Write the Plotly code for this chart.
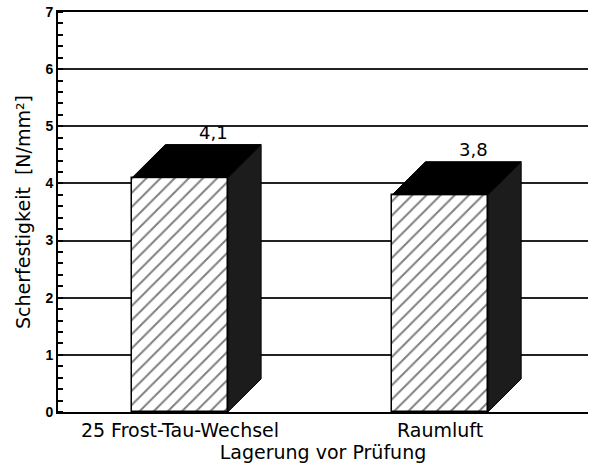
import plotly.graph_objects as go

categories = ["25 Frost-Tau-Wechsel", "Raumluft"]
values = [4.1, 3.8]
value_labels = ["4,1", "3,8"]
y_ticks = [0, 1, 2, 3, 4, 5, 6, 7]

xpos = list(range(len(categories)))
bar_w = 0.368
dx = 0.128   # depth offset in x units
dy = 0.58    # depth offset in y units

FONT = "DejaVu Sans, Liberation Sans, Arial"

fig = go.Figure()

fig.add_trace(go.Bar(
    x=xpos, y=values, width=bar_w,
    marker=dict(color="white",
                pattern=dict(shape="/", fgcolor="black", bgcolor="white", size=10, solidity=0.2),
                line=dict(color="black", width=1.5)),
    showlegend=False, hoverinfo="skip"))

for xc, v in zip(xpos, values):
    x0, x1 = xc - bar_w / 2, xc + bar_w / 2
    # side face
    fig.add_trace(go.Scatter(
        x=[x1, x1 + dx, x1 + dx, x1, x1], y=[v, v + dy, dy, 0, v],
        mode="lines", fill="toself", fillcolor="#1c1c1c",
        line=dict(color="black", width=1), showlegend=False, hoverinfo="skip"))
    # top face
    fig.add_trace(go.Scatter(
        x=[x0, x0 + dx, x1 + dx, x1, x0], y=[v, v + dy, v + dy, v, v],
        mode="lines", fill="toself", fillcolor="black",
        line=dict(color="black", width=1), showlegend=False, hoverinfo="skip"))

for xc, v, t in zip(xpos, values, value_labels):
    fig.add_annotation(x=xc + dx, y=v + dy, text=t, showarrow=False,
                       yanchor="bottom", yshift=0,
                       font=dict(size=18, color="black", family=FONT))

fig.update_layout(
    width=590, height=471,
    margin=dict(l=58, r=2, t=12, b=59, autoexpand=False),
    paper_bgcolor="white", plot_bgcolor="white",
    font=dict(family=FONT, color="black"),
    xaxis=dict(range=[-0.469, 1.569], tickvals=xpos, ticktext=categories,
               showgrid=False, zeroline=False, showline=True, mirror=True,
               linecolor="black", linewidth=2,
               ticks="", tickfont=dict(size=19), automargin=False,
               title=dict(text="Lagerung vor Prüfung", font=dict(size=19), standoff=6)),
    yaxis=dict(range=[0, 7], tickvals=y_ticks, ticktext=[str(v) for v in y_ticks],
               showgrid=True, gridcolor="#222", gridwidth=1.5, zeroline=False,
               showline=True, linecolor="black", linewidth=2, automargin=False,
               ticks="", tickfont=dict(size=14, weight="bold", family="Liberation Sans, Arial"),
               minor=dict(dtick=0.2, ticks="inside", ticklen=5, tickcolor="black", tickwidth=1.5, showgrid=False),
               title=dict(text="Scherfestigkeit  [N/mm²]", font=dict(size=19), standoff=10)),
    bargap=0,
)

fig.write_html("out.html", config={"displayModeBar": False},
               post_script="document.body.style.margin='0';document.body.style.overflow='hidden';")
